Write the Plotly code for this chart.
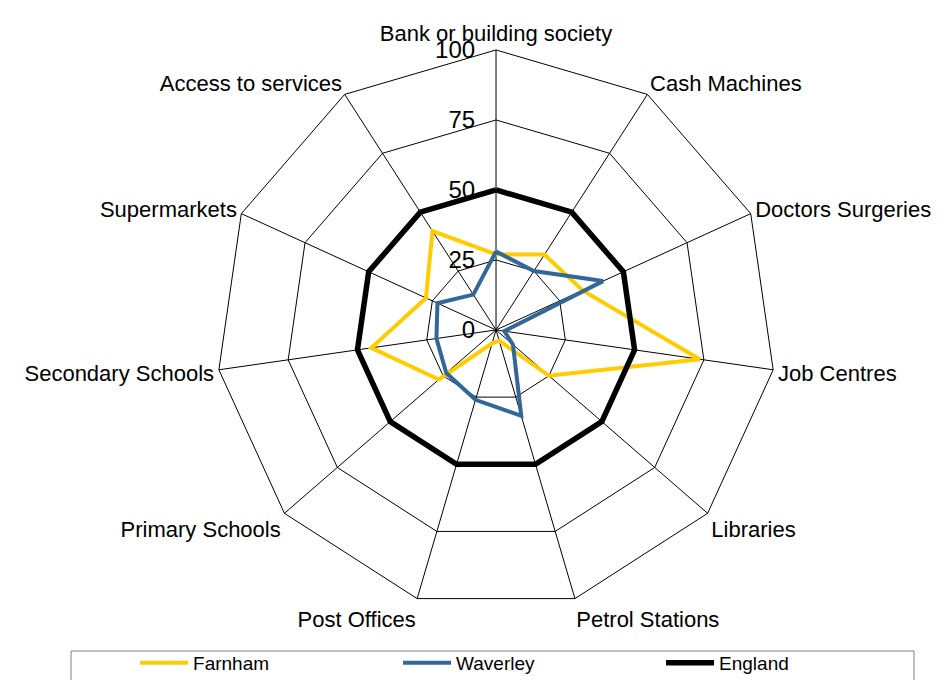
import plotly.graph_objects as go

categories = ["Bank or building society", "Cash Machines", "Doctors Surgeries",
              "Job Centres", "Libraries", "Petrol Stations", "Post Offices",
              "Primary Schools", "Secondary Schools", "Supermarkets",
              "Access to services"]
farnham = [27, 32, 34, 73.5, 25, 4, 5, 27, 45, 27.5, 42]
waverley = [28, 25, 42, 3, 8, 32, 26, 23.5, 21.5, 23, 15]
england = [50, 50, 50, 50, 50, 50, 50, 50, 50, 50, 50]
radial_ticks = [0, 25, 50, 75, 100]

series = [("Farnham", farnham, "#FFCC00", 4),
          ("Waverley", waverley, "#336699", 4),
          ("England", england, "#000000", 5.5)]

fig = go.Figure()
for name, vals, col, w in series:
    fig.add_trace(go.Scatterpolar(
        r=vals + vals[:1], theta=categories + categories[:1],
        mode="lines", name=name,
        line=dict(color=col, width=w)))

font = "Liberation Sans, Arial, sans-serif"
fig.update_layout(
    width=948, height=680,
    margin=dict(l=0, r=0, t=0, b=0, autoexpand=False),
    paper_bgcolor="white",
    font=dict(family=font, color="black"),
    polar=dict(
        domain=dict(x=[0.2194, 0.8102], y=[0.1148, 0.9383]),
        bgcolor="white",
        gridshape="linear",
        angularaxis=dict(direction="clockwise", rotation=90,
                         categoryorder="array", categoryarray=categories,
                         linecolor="black", linewidth=1,
                         gridcolor="black", gridwidth=0.8,
                         ticks="",
                         tickfont=dict(size=22, family=font, color="black")),
        radialaxis=dict(range=[0, 100], tickvals=radial_ticks,
                        angle=90, tickangle=90, side="counterclockwise",
                        showline=False, ticks="outside", ticklen=12,
                        tickcolor="rgba(0,0,0,0)",
                        gridcolor="black", gridwidth=0.8,
                        tickfont=dict(size=24, family=font, color="black")),
    ),
    showlegend=True,
    legend=dict(orientation="h", x=0.134, xanchor="left", y=0.065, yanchor="top",
                borderwidth=0, entrywidth=200, itemwidth=48,
                bgcolor="rgba(0,0,0,0)",
                font=dict(size=19, family=font)),
    shapes=[dict(type="rect", xref="paper", yref="paper",
                 x0=0.0665, x1=0.9557, y0=-0.02, y1=0.0544,
                 line=dict(color="#808080", width=1), fillcolor="rgba(0,0,0,0)",
                 layer="below")],
)

fig.write_html("out.html")
